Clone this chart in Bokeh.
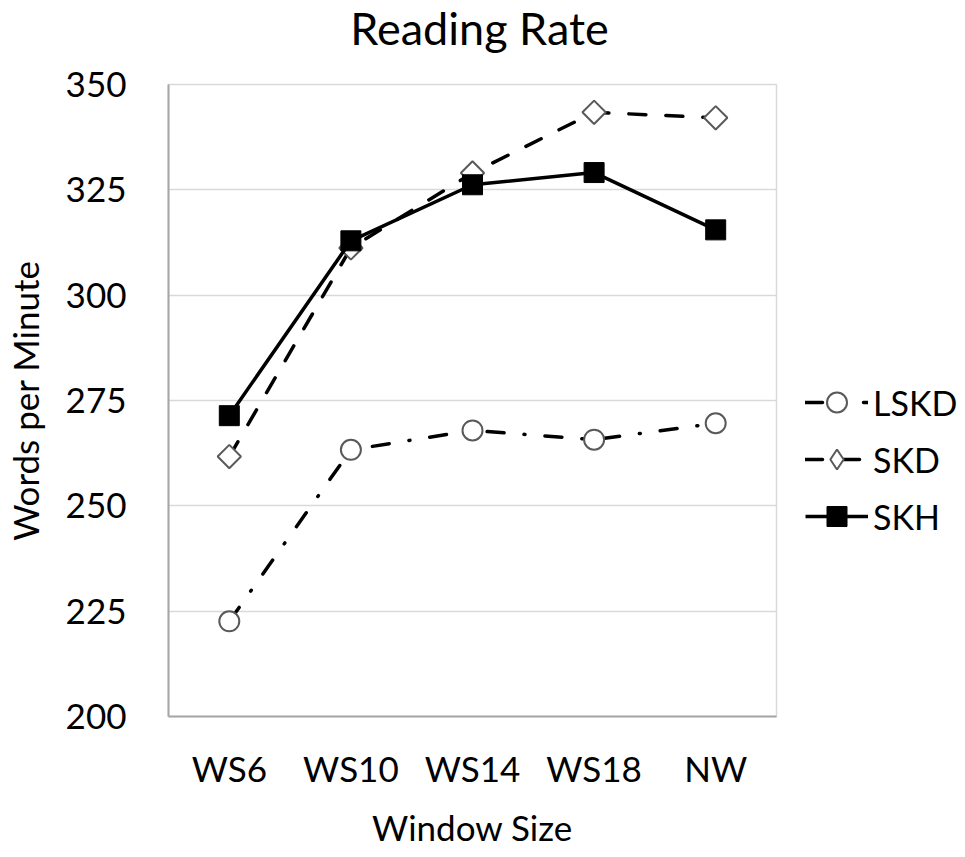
import numpy as np
from bokeh.plotting import figure
from bokeh.models import FactorRange, Range1d, FixedTicker, Legend, LegendItem, Label
from bokeh.embed import file_html
from bokeh.resources import INLINE

categories = ["WS6", "WS10", "WS14", "WS18", "NW"]
lskd = [222.6, 263.3, 267.9, 265.7, 269.6]
skd = [261.7, 311.2, 329.0, 343.4, 342.1]
skh = [271.4, 312.9, 326.2, 329.1, 315.5]
y_ticks = [200, 225, 250, 275, 300, 325, 350]
title_text = "Reading Rate"

FONT = "Lato"

p = figure(
    x_range=FactorRange(*categories, range_padding=0),
    y_range=Range1d(200, 350),
    frame_width=608, frame_height=632,
    min_border_left=162, min_border_top=84, min_border_right=176, min_border_bottom=110,
    output_backend="svg", toolbar_location=None,
)
# off-screen range used only so the legend can show a diamond symbol
p.extra_y_ranges = {"legend_only": Range1d(1000, 2000)}

title = Label(x=311, y=57, x_units="screen", y_units="screen", text=title_text,
              text_align="center", text_baseline="middle", text_font=FONT,
              text_font_size="45px", text_color="#000000")
p.add_layout(title, "above")

p.outline_line_color = "#d9d9d9"
p.outline_line_width = 1.5
p.xgrid.grid_line_color = None
p.ygrid.grid_line_color = "#d9d9d9"
p.ygrid.grid_line_width = 1.5
p.yaxis.ticker = FixedTicker(ticks=y_ticks)

for ax in (p.xaxis[0], p.yaxis[0]):
    ax.axis_line_color = "#a6a6a6"
    ax.axis_line_width = 2
    ax.major_tick_in = 0
    ax.major_tick_out = 0
    ax.minor_tick_line_color = None
    ax.major_tick_line_color = None
    ax.major_label_text_font = FONT
    ax.major_label_text_font_size = "35px"
    ax.major_label_text_color = "#000000"
    ax.axis_label_text_font = FONT
    ax.axis_label_text_font_size = "35px"
    ax.axis_label_text_font_style = "normal"
    ax.axis_label_text_color = "#000000"

p.yaxis.axis_label = "Words per Minute"
p.yaxis.major_label_standoff = 42
p.yaxis.axis_label_standoff = 17
p.xaxis.axis_label = "Window Size"
p.xaxis.major_label_standoff = 30
p.xaxis.axis_label_standoff = 14

# LSKD
l1 = p.line(categories, lskd, line_color="black", line_width=3.5, line_dash="17 20 1 20", line_cap="round")
m1 = p.scatter(categories, lskd, marker="circle", size=20, fill_color="white",
               line_color="#595959", line_width=2)
# SKD
l2 = p.line(categories, skd, line_color="black", line_width=3.5, line_dash="17 20", line_cap="round")
m2 = p.scatter(categories, skd, marker="square", angle=np.pi / 4, size=16.5, fill_color="white",
               line_color="#595959", line_width=2)
m2_leg = p.scatter(categories, skd, marker="diamond", size=20, fill_color="white",
                   line_color="#595959", line_width=2, y_range_name="legend_only")
# SKH
l3 = p.line(categories, skh, line_color="black", line_width=3.5)
m3 = p.scatter(categories, skh, marker="square", size=20, fill_color="black", line_color="black")

legend = Legend(
    items=[
        LegendItem(label="LSKD", renderers=[l1, m1]),
        LegendItem(label="SKD", renderers=[l2, m2_leg]),
        LegendItem(label="SKH", renderers=[l3, m3]),
    ],
    location=(29, 175),
    orientation="vertical",
    glyph_width=63, glyph_height=50, label_height=50, spacing=7,
    label_standoff=5, padding=0, margin=0,
    border_line_color=None, background_fill_alpha=0,
    label_text_font=FONT, label_text_font_size="34px", label_text_color="#000000",
)
p.add_layout(legend, "right")

open("out.html", "w").write(file_html(p, INLINE))
